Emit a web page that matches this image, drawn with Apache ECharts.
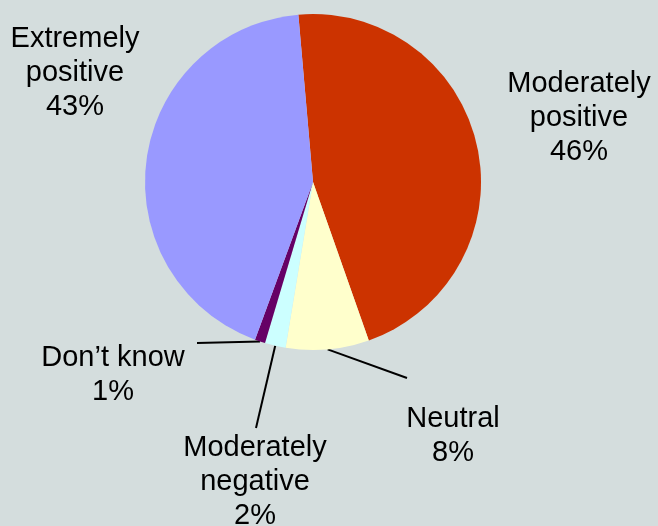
<!DOCTYPE html>
<html>
<head>
<meta charset="utf-8">
<script src="https://cdn.jsdelivr.net/npm/echarts@6/dist/echarts.min.js"></script>
<style>
html,body{margin:0;padding:0;background:#D4DDDD;}
#chart{width:658px;height:526px;}
</style>
</head>
<body>
<div id="chart"></div>
<script>
var categories = ['Moderately positive', 'Neutral', 'Moderately negative', 'Don\u2019t know', 'Extremely positive'];
var labelTexts = ['Moderately\npositive', 'Neutral', 'Moderately\nnegative', 'Don\u2019t know', 'Extremely\npositive'];
var values = [46, 8, 2, 1, 43];
var colors = ['#CC3300', '#FFFFCC', '#CCFFFF', '#660066', '#9999FF'];
var showLines = [false, true, true, true, false];
var labelPos = [[579, 118], [453, 436], [255, 482], [113, 375], [75, 73]];
// leader line end, offset from the label anchor
var leaderEnd = [null, [-46, -58], [1, -54], [84, -32], null];

var chart = echarts.init(document.getElementById('chart'));
var data = categories.map(function (c, i) {
  return {
    name: c,
    value: values[i],
    itemStyle: { color: colors[i] },
    labelLine: { show: showLines[i] }
  };
});
chart.setOption({
  backgroundColor: '#D4DDDD',
  animation: false,
  series: [{
    type: 'pie',
    center: [313, 182],
    radius: 168,
    startAngle: 95,
    clockwise: true,
    avoidLabelOverlap: false,
    data: data,
    itemStyle: { borderWidth: 0 },
    label: {
      show: true,
      position: 'outside',
      fontFamily: 'Liberation Sans, Arial, sans-serif',
      fontSize: 29,
      lineHeight: 34,
      color: '#000',
      align: 'center',
      formatter: function (p) { return labelTexts[p.dataIndex] + '\n' + p.percent.toFixed(0) + '%'; }
    },
    labelLine: { lineStyle: { color: '#000', width: 2 }, length: 20, length2: 0 },
    labelLayout: function (p) {
      var i = p.dataIndex;
      var pos = labelPos[i];
      var res = { x: pos[0], y: pos[1], align: 'center', verticalAlign: 'middle', moveOverlap: false };
      if (leaderEnd[i] && p.labelLinePoints && p.labelLinePoints.length) {
        var s = p.labelLinePoints[0];
        res.labelLinePoints = [[s[0], s[1]], [pos[0] + leaderEnd[i][0], pos[1] + leaderEnd[i][1]]];
      }
      return res;
    },
    emphasis: { disabled: true }
  }]
});
</script>
</body>
</html>
